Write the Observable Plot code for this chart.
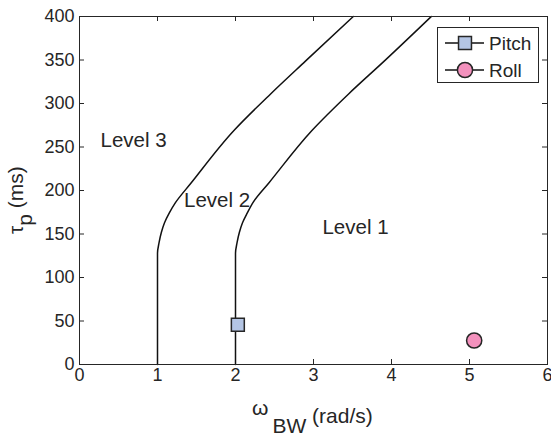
<!DOCTYPE html>
<html>
<head>
<meta charset="utf-8">
<script src="https://cdn.jsdelivr.net/npm/d3@7"></script>
<script src="https://cdn.jsdelivr.net/npm/@observablehq/plot@0.6"></script>
<style>
  html, body { margin: 0; padding: 0; background: white; }
  svg { display: block; }
</style>
</head>
<body>
<div id="chart"></div>
<script>
// ---- data ----
const xTicks = [0, 1, 2, 3, 4, 5, 6];
const yTicks = [0, 50, 100, 150, 200, 250, 300, 350, 400];

// boundary between Level 3 and Level 2
const b23X = [1.00, 1.00, 1.02, 1.05, 1.09, 1.15, 1.23, 1.425, 1.98, 2.45, 2.90, 3.51];
const b23Y = [0, 128, 140, 152, 163, 174, 186, 208, 269, 311, 349, 400];
// boundary between Level 2 and Level 1
const b12X = [2.00, 2.00, 2.02, 2.05, 2.09, 2.15, 2.23, 2.43, 2.98, 3.45, 3.91, 4.51];
const b12Y = [0, 128, 140, 152, 163, 174, 187, 209, 269, 311, 349, 400];

const seriesNames = ["Pitch", "Roll"];
const seriesX = [2.03, 5.06];
const seriesY = [45.6, 27.6];
const seriesSymbols = ["square", "circle"];
const seriesColors = ["#b4c5e4", "#f391bd"];

const levelNames = ["Level 3", "Level 2", "Level 1"];
const levelX = [0.27, 1.34, 3.115];
const levelY = [258, 189, 157];

// ---- build tables ----
const toPts = (xs, ys) => xs.map((x, i) => ({x, y: ys[i]}));
const b23 = toPts(b23X, b23Y);
const b12 = toPts(b12X, b12Y);
const pts = seriesNames.map((n, i) => ({name: n, x: seriesX[i], y: seriesY[i], symbol: seriesSymbols[i], color: seriesColors[i]}));
const levels = levelNames.map((n, i) => ({name: n, x: levelX[i], y: levelY[i]}));

const W = 551, H = 437, ML = 79, MR = 4, MT = 16, MB = 73;
const PW = W - ML - MR, PH = H - MT - MB;
const ink = "#262626";
const tickLen = 5;
const symR = {square: 7.3, circle: 7.6};

const chart = Plot.plot({
  width: W, height: H,
  marginLeft: ML, marginRight: MR, marginTop: MT, marginBottom: MB,
  style: {fontFamily: "'Liberation Sans', Arial, sans-serif", color: ink, background: "white"},
  x: {domain: [0, 6], ticks: xTicks, label: null},
  y: {domain: [0, 400], ticks: yTicks, label: null},
  marks: [
    Plot.axisX(xTicks, {tickSize: 0, tickPadding: 4, fontSize: 18, label: null}),
    Plot.axisY(yTicks, {tickSize: 0, tickPadding: 5, fontSize: 18, label: null}),
    Plot.tickX(xTicks.slice(1, -1), {x: d => d, insetTop: PH - tickLen, stroke: ink}),
    Plot.tickX(xTicks.slice(1, -1), {x: d => d, insetBottom: PH - tickLen, stroke: ink}),
    Plot.tickY(yTicks.slice(1, -1), {y: d => d, insetRight: PW - tickLen, stroke: ink}),
    Plot.tickY(yTicks.slice(1, -1), {y: d => d, insetLeft: PW - tickLen, stroke: ink}),
    Plot.line(b23, {x: "x", y: "y", stroke: "#111", strokeWidth: 1.5, curve: "monotone-y"}),
    Plot.line(b12, {x: "x", y: "y", stroke: "#111", strokeWidth: 1.5, curve: "monotone-y"}),
    Plot.text(levels, {x: "x", y: "y", text: "name", textAnchor: "start", fontSize: 20.5, fill: ink}),
    Plot.dot(pts.filter(d => d.symbol === "square"), {x: "x", y: "y", symbol: "square", r: symR.square, fill: "color", stroke: ink, strokeWidth: 1.5}),
    Plot.dot(pts.filter(d => d.symbol === "circle"), {x: "x", y: "y", symbol: "circle", r: symR.circle, fill: "color", stroke: ink, strokeWidth: 1.5}),
    Plot.frame({stroke: ink, strokeWidth: 1})
  ]
});

const svg = d3.select(chart);
const font = "'Liberation Sans', Arial, sans-serif";

// x axis label: ω_BW (rad/s)
const xl = svg.append("text")
  .attr("x", 252).attr("y", 415).attr("text-anchor", "start")
  .attr("font-family", font).attr("font-size", 21).attr("fill", ink);
xl.append("tspan").text("ω");
xl.append("tspan").attr("dx", 4).attr("dy", 18).text("BW");
xl.append("tspan").attr("dy", -10).text(" (rad/s)");

// y axis label: τ_p (ms)
const yl = svg.append("text")
  .attr("transform", "translate(23,234) rotate(-90)").attr("text-anchor", "start")
  .attr("font-family", font).attr("font-size", 21).attr("fill", ink);
yl.append("tspan").text("τ");
yl.append("tspan").attr("dy", 9).text("p");
yl.append("tspan").attr("dy", -9).text(" (ms)");

// legend
const lg = svg.append("g").attr("text-anchor", "start");
lg.append("rect").attr("x", 437.5).attr("y", 27.5).attr("width", 101).attr("height", 55)
  .attr("fill", "white").attr("stroke", ink).attr("stroke-width", 1);
pts.forEach((d, i) => {
  const cy = 43 + i * 27;
  lg.append("line").attr("x1", 445).attr("x2", 484).attr("y1", cy).attr("y2", cy)
    .attr("stroke", "#111").attr("stroke-width", 1.5);
  const r = symR[d.symbol];
  lg.append("path")
    .attr("d", d3.symbol(d.symbol === "square" ? d3.symbolSquare : d3.symbolCircle, Math.PI * r * r)())
    .attr("transform", `translate(465,${cy})`)
    .attr("fill", d.color).attr("stroke", ink).attr("stroke-width", 1.5);
  lg.append("text").attr("x", 489).attr("y", cy).attr("dy", "0.35em").attr("text-anchor", "start")
    .attr("font-family", font).attr("font-size", 19).attr("fill", ink).text(d.name);
});

document.getElementById("chart").appendChild(chart);
</script>
</body>
</html>
